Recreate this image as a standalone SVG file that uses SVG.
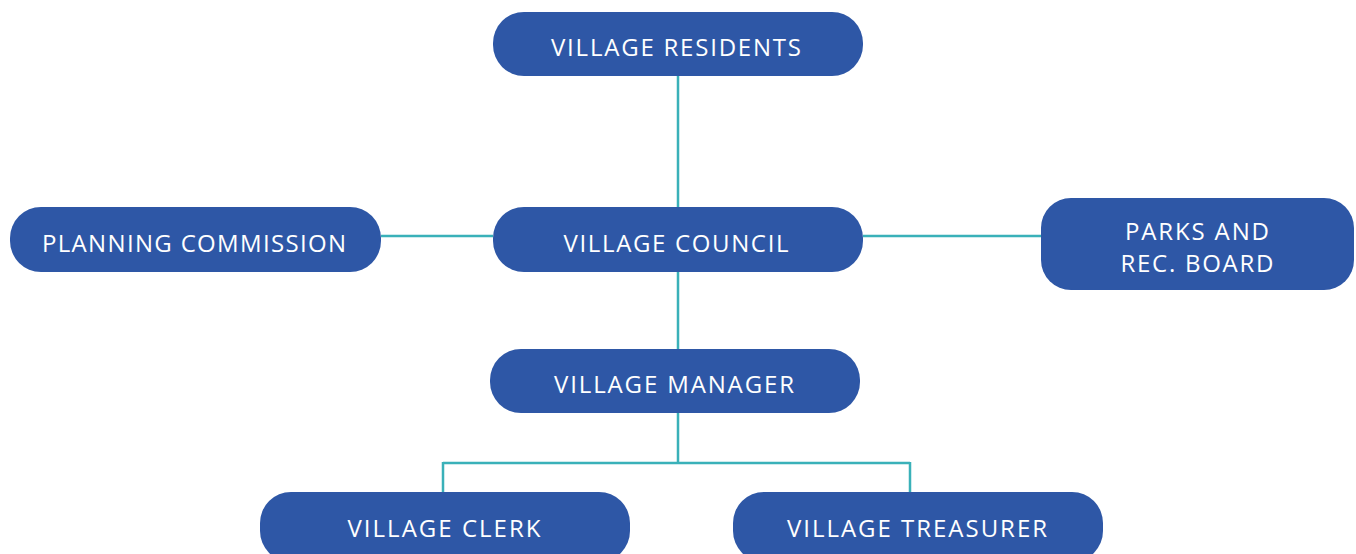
<svg xmlns="http://www.w3.org/2000/svg" width="1356" height="554" viewBox="0 0 1356 554">
<style>
.node rect{fill:#2e57a6}
.node text{fill:#ffffff;font-family:"Open Sans","Noto Sans","Liberation Sans",sans-serif;font-size:24px;text-anchor:middle}
.conn{stroke:#3ab1b9;stroke-width:2.5;fill:none}
</style>
<rect width="1356" height="554" fill="#ffffff"/>
<g id="connectors">
<path class="conn" d="M678 76V207M678 272V349M678 413V463M443 463H910M443 462V492M910 462V492M381 236H493M863 236H1041"/>
</g>
<g id="village-residents" class="node">
<rect x="493" y="12" width="370" height="64" rx="31"/>
<text x="676" y="56" textLength="250" lengthAdjust="spacing">VILLAGE RESIDENTS</text>
</g>
<g id="planning-commission" class="node">
<rect x="10" y="207" width="371" height="65" rx="31"/>
<text x="194" y="252" textLength="304" lengthAdjust="spacing">PLANNING COMMISSION</text>
</g>
<g id="village-council" class="node">
<rect x="493" y="207" width="370" height="65" rx="31"/>
<text x="676" y="252" textLength="225" lengthAdjust="spacing">VILLAGE COUNCIL</text>
</g>
<g id="parks-rec-board" class="node">
<rect x="1041" y="198" width="313" height="92" rx="30"/>
<text x="1197" y="240" textLength="144" lengthAdjust="spacing">PARKS AND</text>
<text x="1197" y="272" textLength="153" lengthAdjust="spacing">REC. BOARD</text>
</g>
<g id="village-manager" class="node">
<rect x="490" y="349" width="370" height="64" rx="31"/>
<text x="674" y="393" textLength="240" lengthAdjust="spacing">VILLAGE MANAGER</text>
</g>
<g id="village-clerk" class="node">
<rect x="260" y="492" width="370" height="70" rx="31"/>
<text x="444" y="537" textLength="193" lengthAdjust="spacing">VILLAGE CLERK</text>
</g>
<g id="village-treasurer" class="node">
<rect x="733" y="492" width="370" height="70" rx="31"/>
<text x="917" y="537" textLength="260" lengthAdjust="spacing">VILLAGE TREASURER</text>
</g>
</svg>
